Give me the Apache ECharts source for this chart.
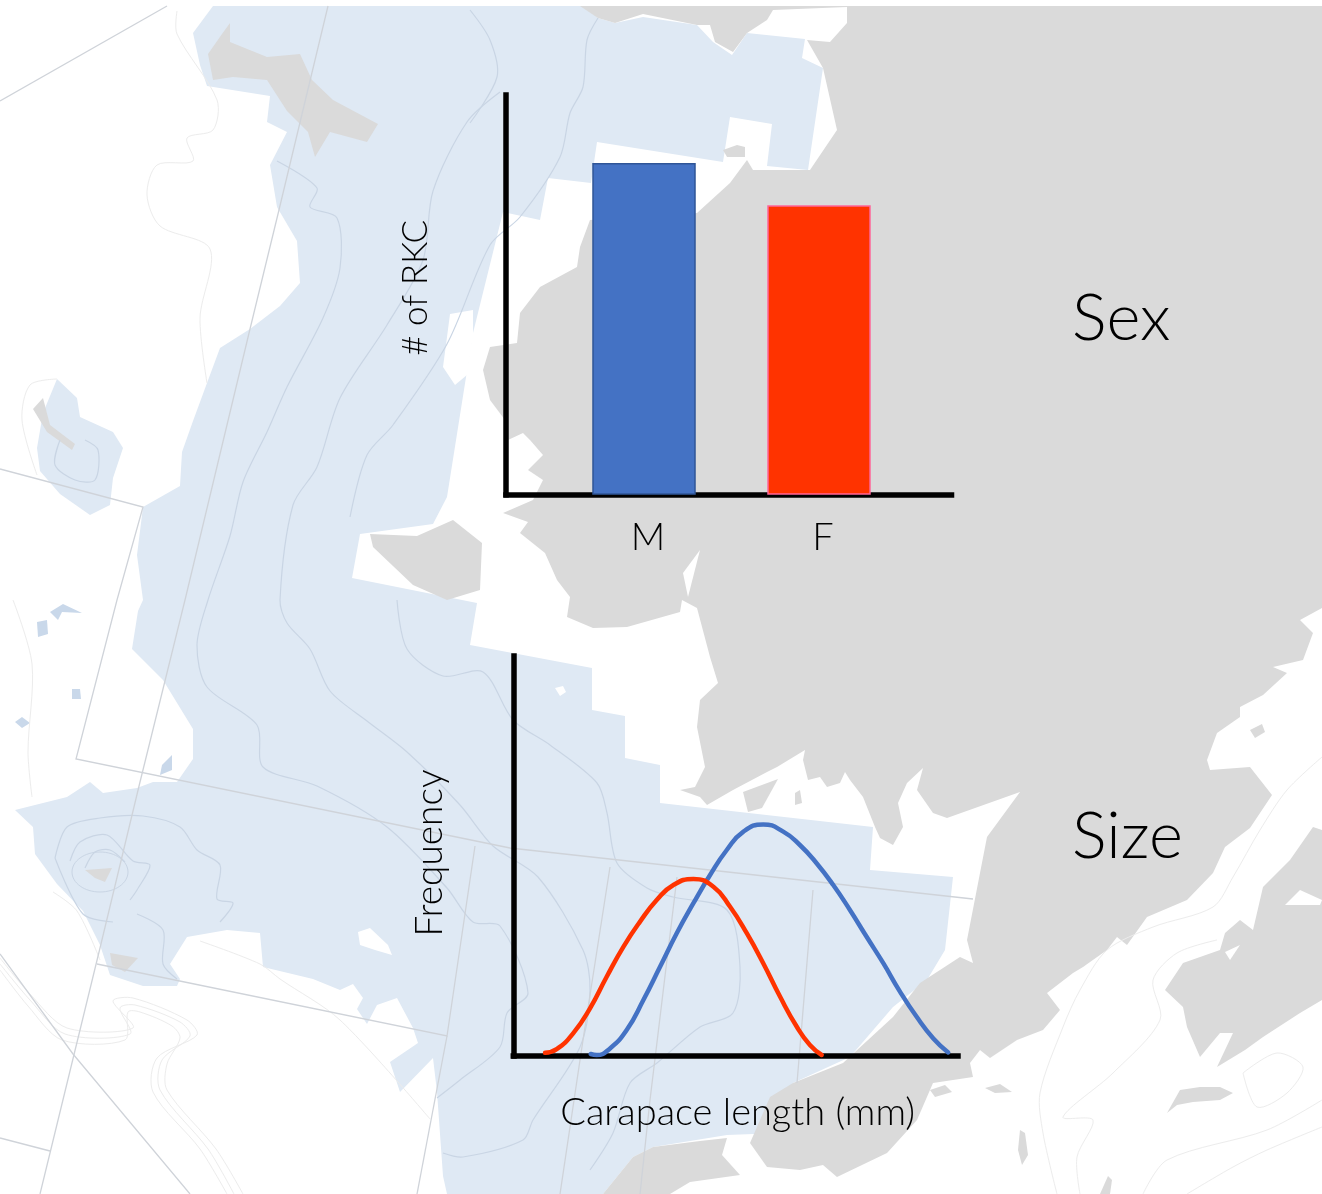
<!DOCTYPE html>
<html>
<head>
<meta charset="utf-8">
<style>html,body{margin:0;padding:0;background:#fff}#c{width:1322px;height:1194px}</style>
<script src="https://cdn.jsdelivr.net/npm/echarts@6/dist/echarts.min.js"></script>
</head>
<body>
<div id="c"></div>
<script>
// ---- chart data ----
const sexCategories = ['M', 'F'];
const sexCounts = [83, 72.4];
const maleSize = [[34.8,0.5],[37.5,0.25],[43.5,1.9],[51,6.5],[58.5,14],[66,22.3],[73.5,30.7],[81,38.2],[88.5,45.25],[96,51.5],[103.5,56.1],[112.4,57.9],[121.4,56.1],[128.9,52.75],[136.4,48.2],[143.9,42.75],[151.4,36.5],[158.9,29.8],[166.4,23.2],[173.9,16.1],[181.4,9.8],[188.9,4.4],[195.6,0.9]];
const femaleSize = [[14.3,0.8],[19.5,1.7],[27,5.7],[34.5,11.9],[42,19.8],[49.5,27.3],[57,33.6],[64.5,39],[72,42.75],[81,44.25],[90,42.3],[97.5,37.3],[105,30.7],[112.4,23.2],[120,14.8],[127.5,7.3],[133.4,2.75],[138.7,0.25]];

// ---- backdrop map (decoration only) ----
const BLUE='#dfe9f4', GRAY='#dadada', WHITE='#ffffff';
const seaArea=[[213,6],[470,6],[585,6],[598,18],[615,23],[643,17],[697,25],[713,42],[732,55],[747,33],[805,39],[802,58],[823,68],[808,170],[767,166],[772,124],[730,117],[723,162],[597,142],[591,183],[548,178],[540,220],[503,212],[473,333],[447,497],[433,524],[360,534],[352,578],[477,603],[470,645],[592,668],[592,710],[625,716],[625,758],[660,765],[660,803],[873,827],[870,870],[953,877],[945,950],[927,980],[893,1007],[850,1057],[793,1083],[780,1133],[727,1135],[653,1147],[633,1157],[603,1194],[447,1194],[443,1176],[437,1092],[433,1058],[400,1092],[390,1062],[418,1043],[413,1028],[397,998],[377,1005],[367,1024],[357,1009],[363,998],[353,984],[340,990],[313,979],[263,967],[260,933],[227,930],[187,937],[170,964],[180,979],[177,986],[143,986],[110,975],[100,945],[83,911],[57,884],[35,854],[33,827],[15,810],[67,797],[90,782],[103,793],[137,788],[153,782],[177,782],[193,759],[193,729],[163,680],[132,649],[138,611],[143,600],[137,555],[143,507],[180,486],[182,452],[193,421],[207,383],[220,348],[250,329],[280,306],[300,283],[297,241],[277,207],[270,165],[287,132],[267,122],[270,96],[207,86],[200,65],[193,33]];
const seaIsland=[[37,448],[43,413],[57,379],[77,398],[80,417],[113,432],[123,448],[113,478],[110,505],[90,515],[60,494],[40,471]];
const seaDots=[[[37,622],[47,620],[48,634],[38,637]],[[50,612],[63,604],[82,613],[62,612],[58,620]],[[72,689],[80,689],[81,699],[72,699]],[[15,722],[22,717],[30,723],[22,728]],[[162,765],[172,755],[172,770],[160,775]]];
const seaHoles=[[[450,314],[473,310],[473,337],[467,375],[455,385],[443,367],[447,337]],[[358,932],[370,928],[388,945],[392,955],[375,950],[360,945]],[[585,498],[625,498],[632,510],[617,526],[606,525],[608,507],[598,503],[586,513]],[[555,688],[563,686],[566,692],[560,696]]];
const mainland=[[580,6],[1322,6],[1322,608],[1300,620],[1313,633],[1303,660],[1273,667],[1287,673],[1263,695],[1240,707],[1240,717],[1217,733],[1207,760],[1210,770],[1250,767],[1272,795],[1250,828],[1225,847],[1213,873],[1187,900],[1147,917],[1127,945],[1117,937],[1107,950],[1083,967],[1073,973],[1047,993],[1060,1010],[1043,1030],[1017,1040],[990,1058],[980,1050],[970,1063],[973,1077],[933,1083],[917,1120],[887,1153],[837,1177],[823,1165],[800,1170],[767,1167],[750,1143],[770,1097],[793,1083],[843,1063],[893,1017],[920,983],[960,957],[973,963],[967,940],[980,873],[987,837],[1020,792],[947,818],[933,813],[917,790],[923,768],[907,783],[898,803],[903,827],[893,845],[880,838],[875,827],[863,797],[850,780],[845,772],[840,783],[827,787],[820,777],[808,780],[803,760],[805,750],[777,767],[767,772],[733,790],[707,805],[700,797],[680,790],[695,787],[705,767],[697,727],[700,700],[718,683],[710,657],[697,608],[682,600],[680,612],[627,627],[593,628],[567,617],[570,597],[557,580],[545,553],[520,533],[528,522],[503,513],[533,500],[543,480],[528,470],[543,455],[530,440],[523,433],[508,440],[505,420],[490,400],[483,370],[490,347],[517,343],[520,313],[540,287],[577,267],[580,247],[590,220],[697,213],[730,183],[747,160],[753,170],[810,170],[837,130],[823,68],[807,40],[830,42],[847,23],[847,7],[773,10],[767,20],[747,33],[733,52],[715,42],[710,25],[697,25],[643,14],[615,23],[598,18]];
const islands=[
[[230,23],[230,42],[267,57],[300,54],[312,80],[333,100],[378,124],[367,142],[330,132],[315,157],[308,132],[287,111],[267,80],[233,77],[213,80],[208,54],[222,34]],
[[33,409],[43,398],[50,425],[75,444],[72,450],[47,432]],
[[370,534],[417,536],[453,520],[482,543],[480,590],[447,600],[413,585],[373,547]],
[[603,1194],[633,1157],[653,1147],[700,1141],[727,1138],[722,1155],[740,1175],[690,1182],[670,1194]],
[[778,779],[743,792],[748,812],[762,808]],
[[723,150],[737,145],[745,147],[745,157],[727,157]],
[[1165,990],[1183,963],[1220,950],[1225,933],[1240,920],[1253,930],[1263,887],[1290,860],[1313,827],[1322,830],[1322,1000],[1300,1013],[1263,1037],[1245,1050],[1217,1067],[1233,1033],[1220,1033],[1200,1057],[1187,1027],[1183,1007]],
[[1167,1113],[1180,1090],[1200,1087],[1220,1087],[1233,1093],[1220,1100],[1193,1102],[1177,1105]],
[[1250,730],[1262,724],[1265,732],[1255,738]],
[[930,1090],[945,1085],[952,1092],[935,1097]],[[985,1088],[1000,1084],[1012,1092],[995,1093]],
[[1020,1130],[1025,1133],[1028,1155],[1022,1165],[1018,1150]],[[1100,1194],[1108,1176],[1112,1180],[1110,1194]],
[[85,870],[112,868],[105,882],[95,878]],[[110,953],[138,958],[125,972],[112,965]],[[795,793],[800,790],[802,803],[795,805]]
];
const whiteStrips=[[[1322,900],[1300,890],[1285,905],[1320,905]],[[1225,952],[1240,945],[1230,960]],[[700,550],[683,573],[688,597]]];
const gridRules=[
[[0,101],[167,6]],[[328,6],[278,214],[250,329],[185,600],[140,782],[100,948],[50,1153],[40,1194]],
[[0,469],[143,507],[117,600],[76,759],[510,848],[973,899]],[[97,964],[447,1036],[475,846]],[[447,1036],[417,1194]],
[[0,954],[73,1054],[190,1194]],[[0,1138],[50,1151]],[[610,867],[583,1040],[560,1194]],[[677,877],[650,1100],[640,1194]],[[813,890],[797,1083]]
];
const seaContours=[
[[500,92],[467,122],[433,191],[423,260],[387,325],[340,398],[317,467],[293,505],[280,600],[287,623],[310,649],[330,691],[367,721],[407,752],[460,805],[493,846],[538,877],[583,950],[590,990],[580,1047],[533,1120],[523,1140],[463,1157],[443,1153]],
[[598,18],[587,40],[583,87],[570,113],[560,157],[520,217],[490,245],[447,344],[393,425],[367,455],[350,517]],
[[277,161],[317,188],[310,207],[337,218],[340,268],[323,318],[287,387],[267,432],[243,482],[230,536],[208,600],[197,645],[207,687],[257,725],[263,767],[317,786],[387,827],[447,888],[473,922],[500,926],[528,993],[507,1013],[500,1047],[460,1080],[437,1098]],
[[470,10],[490,40],[497,77],[470,123]],
[[55,858],[67,827],[100,818],[143,816],[180,827],[197,850],[220,865],[217,899],[233,903],[220,922]],
[[137,914],[163,930],[163,964],[177,979]],[[55,858],[83,914],[113,922]],
[[70,861],[80,842],[107,835],[133,861],[150,865],[137,890],[130,900]],[[85,868],[95,852],[110,850],[125,862]],
[[60,440],[55,465],[75,480],[95,480],[98,450],[85,440]],
[[397,600],[407,649],[443,676],[483,672],[513,720],[550,745],[597,783],[607,813],[617,863],[647,888],[673,897],[727,910],[740,967],[733,1013],[700,1027],[657,1063],[630,1083],[613,1133],[590,1170]]
];
const landContours=[
[[1322,757],[1287,790],[1260,830],[1233,877],[1213,907],[1153,927],[1107,950],[1080,990],[1063,1027],[1040,1093],[1043,1133],[1057,1194]],
[[1217,940],[1177,953],[1153,980],[1160,1020],[1113,1073],[1063,1117],[1093,1120],[1077,1157],[1080,1194]],
[[1322,1100],[1267,1130],[1167,1160],[1143,1194]],[[1322,1127],[1267,1150],[1233,1167],[1187,1194]],
[[1243,1073],[1277,1053],[1303,1067],[1287,1093],[1257,1107],[1243,1073]],
[[177,11],[177,34],[217,100],[213,130],[187,138],[193,161],[157,165],[147,195],[160,226],[210,249],[200,318],[207,383]],
[[57,379],[30,385],[22,420],[37,475]],[[13,600],[32,664],[28,752],[32,797]],[[53,892],[77,911],[100,960]],
[[0,958],[30,994],[67,1028],[133,1028],[113,1001],[133,998],[187,1020],[197,1035],[157,1058],[153,1092],[200,1149],[227,1194]],
[[0,964],[30,1000],[65,1034],[130,1034],[120,1008],[135,1005],[180,1022],[190,1036],[162,1060],[160,1090],[208,1149],[234,1194]],
[[0,970],[28,1006],[62,1040],[125,1040],[128,1012],[140,1012],[172,1026],[180,1038],[167,1064],[167,1090],[216,1149],[243,1194]],
[[200,941],[260,964],[280,979],[340,1020],[430,1119]]
];
function poly(points,fill){return {type:'polygon',silent:true,z:-20,shape:{points},style:{fill}};}
function pline(points,stroke,w,z,sm){return {type:'polyline',silent:true,z:z,shape:{points,smooth:sm||0},style:{stroke,lineWidth:w,fill:null}};}
function ring(cx,cy,rx,ry){return {type:'ellipse',silent:true,z:-17,shape:{cx,cy,rx,ry},style:{stroke:'#c9d5e4',lineWidth:1,fill:null}};}
const mapLayer=[].concat(
  [poly(seaArea,BLUE),poly(seaIsland,BLUE)],seaDots.map(p=>poly(p,'#c9d8ea')),
  seaHoles.map(p=>poly(p,WHITE)),
  landContours.map(p=>pline(p,'#ececec',1,-19,0.3)),
  [poly(mainland,GRAY)],islands.map(p=>poly(p,GRAY)),whiteStrips.map(p=>poly(p,WHITE)),
  seaContours.map(p=>pline(p,'#c9d5e4',1.2,-17,0.3)),
  [ring(100,872,28,20)],
  gridRules.map(p=>pline(p,'#cfd3d9',1.3,-16))
);

const FONT='Lato';
const axisLine={show:true,lineStyle:{color:'#000',width:5.5,cap:'square'}};
const hidden={show:false};
const chart=echarts.init(document.getElementById('c'),null,{renderer:'canvas',width:1322,height:1194});
chart.setOption({
  animation:false,
  backgroundColor:'#ffffff',
  graphic:{elements:mapLayer.concat([
    {type:'text',silent:true,z:5,left:1072,top:287,style:{text:'Sex',fill:'#000',font:'300 65px '+FONT}},
    {type:'text',silent:true,z:5,left:1072,top:805,style:{text:'Size',fill:'#000',font:'300 65px '+FONT}}
  ])},
  grid:[
    {left:506,top:95,width:445.5,height:399.7},
    {left:556.5,top:95,width:350,height:399.7},
    {left:513.3,top:656,width:444.7,height:400}
  ],
  xAxis:[
    {gridIndex:0,type:'value',min:0,max:1,axisLine,axisTick:hidden,axisLabel:hidden,splitLine:hidden},
    {gridIndex:1,type:'category',data:sexCategories,axisLine:hidden,axisTick:hidden,splitLine:hidden,
     axisLabel:{show:true,color:'#000',fontFamily:FONT,fontWeight:300,fontSize:38,margin:24,padding:[0,0,0,8]}},
    {gridIndex:2,type:'value',min:0,max:200,axisLine,axisTick:hidden,axisLabel:hidden,splitLine:hidden,
     name:'Carapace length (mm)',nameLocation:'middle',nameGap:38,
     nameTextStyle:{color:'#000',fontFamily:FONT,fontWeight:300,fontSize:38,padding:[0,0,0,4]}}
  ],
  yAxis:[
    {gridIndex:0,type:'value',min:0,max:100,axisLine,axisTick:hidden,axisLabel:hidden,splitLine:hidden,
     name:'# of RKC',nameLocation:'middle',nameGap:65,nameRotate:90,
     nameTextStyle:{color:'#000',fontFamily:FONT,fontWeight:300,fontSize:35,padding:[0,0,8,14]}},
    {gridIndex:1,type:'value',min:0,max:100,axisLine:hidden,axisTick:hidden,axisLabel:hidden,splitLine:hidden},
    {gridIndex:2,type:'value',min:0,max:100,axisLine,axisTick:hidden,axisLabel:hidden,splitLine:hidden,
     name:'Frequency',nameLocation:'middle',nameGap:57,nameRotate:90,
     nameTextStyle:{color:'#000',fontFamily:FONT,fontWeight:300,fontSize:37,padding:[0,0,8,6]}}
  ],
  series:[
    {type:'bar',xAxisIndex:1,yAxisIndex:1,barWidth:103.5,z:3,silent:true,
     data:[
       {value:sexCounts[0],itemStyle:{color:'#4472c4',borderColor:'#2f5597',borderWidth:1.5}},
       {value:sexCounts[1],itemStyle:{color:'#ff3300',borderColor:'#ff6699',borderWidth:1.5}}
     ]},
    {type:'line',name:'Male',xAxisIndex:2,yAxisIndex:2,data:maleSize,smooth:0.5,showSymbol:false,symbol:'none',silent:true,z:3,
     lineStyle:{color:'#4472c4',width:4.5,cap:'round'}},
    {type:'line',name:'Female',xAxisIndex:2,yAxisIndex:2,data:femaleSize,smooth:0.5,showSymbol:false,symbol:'none',silent:true,z:4,
     lineStyle:{color:'#ff3300',width:4.5,cap:'round'}}
  ]
});
</script>
</body>
</html>
